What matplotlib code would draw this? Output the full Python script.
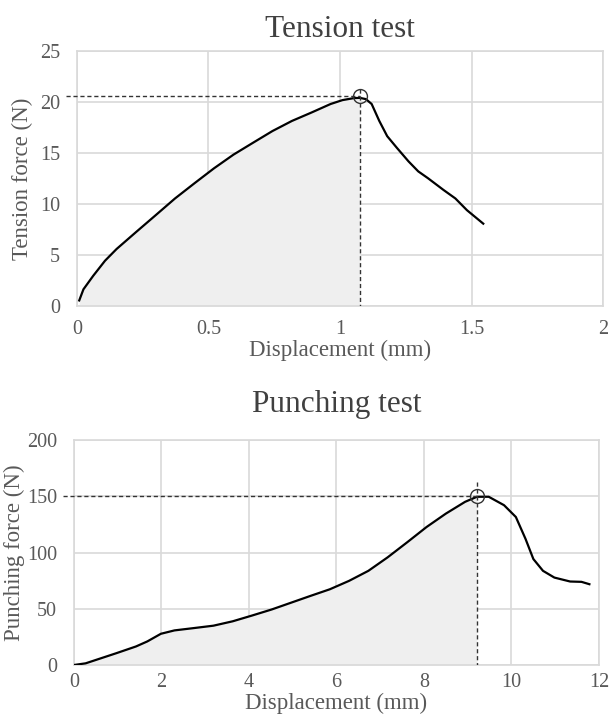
import numpy as np
import matplotlib.pyplot as plt

plt.rcParams['font.family'] = ['Liberation Serif', 'DejaVu Serif']

text_color = "#595959"
grid_color = "#d9d9d9"
fill_color = "#efefef"

# Tension test curve (displacement mm, force N)
tension_disp = [0.009, 0.025, 0.062, 0.107, 0.151, 0.225, 0.299, 0.373, 0.447, 0.521,
                0.595, 0.669, 0.743, 0.817, 0.891, 0.964, 1.009, 1.053, 1.075, 1.098,
                1.12, 1.149, 1.179, 1.216, 1.26, 1.297, 1.334, 1.393, 1.438, 1.482, 1.544]
tension_force = [0.56, 1.65, 2.97, 4.45, 5.6, 7.26, 8.9, 10.55, 12.04, 13.5,
                 14.84, 16.0, 17.15, 18.14, 18.96, 19.8, 20.18, 20.38, 20.4, 20.28,
                 19.8, 18.14, 16.65, 15.5, 14.18, 13.2, 12.53, 11.38, 10.55, 9.4, 8.08]
tension_peak = (1.075, 20.6)

# Punching test curve
punch_disp = [0.0, 0.27, 0.62, 0.97, 1.42, 1.68, 1.99, 2.30, 2.75, 3.19, 3.63, 4.07,
              4.52, 4.96, 5.40, 5.85, 6.29, 6.73, 7.17, 7.62, 8.06, 8.50, 8.94, 9.21,
              9.48, 9.83, 10.10, 10.32, 10.50, 10.72, 10.98, 11.34, 11.6, 11.78]
punch_force = [0.0, 1.5, 6.0, 10.5, 16.5, 21.0, 27.8, 30.8, 32.9, 35.0, 38.9, 44.0,
               49.4, 55.4, 61.4, 67.4, 74.9, 83.8, 95.8, 109.3, 122.8, 134.7, 145.2, 149.7,
               149.7, 142.2, 131.7, 112.3, 94.3, 83.8, 77.8, 74.3, 74.0, 71.9]
punch_peak = (9.21, 150.6)

fig = plt.figure(figsize=(6.10, 7.17), dpi=100)
ax1 = fig.add_axes([0.126, 0.573, 0.863, 0.356])
ax2 = fig.add_axes([0.121, 0.0725, 0.861, 0.3135])


def style_axes(ax, xlim, ylim, xticks, yticks, xticklabels, ylabel, title,
               xlab_y, ylab_x, title_pad, xpad):
    ax.set_xlim(*xlim)
    ax.set_ylim(*ylim)
    ax.set_xticks(xticks)
    ax.set_xticklabels(xticklabels)
    ax.set_yticks(yticks)
    ax.grid(True, color=grid_color, linewidth=1.2)
    ax.set_axisbelow(True)
    for s in ax.spines.values():
        s.set_color(grid_color)
        s.set_linewidth(1.2)
    ax.tick_params(length=0, labelsize=14.5, colors=text_color)
    ax.tick_params(axis='x', pad=xpad)
    ax.tick_params(axis='y', pad=12)
    ax.set_xlabel('Displacement (mm)', fontsize=16.5, color=text_color, va='top')
    ax.xaxis.set_label_coords(0.5, xlab_y)
    ax.set_ylabel(ylabel, fontsize=16.5, color=text_color, va='center')
    ax.yaxis.set_label_coords(ylab_x, 0.5)
    ax.set_title(title, fontsize=22.5, color="#404040", pad=title_pad)


def draw_curve(ax, xs, ys, peak):
    xs = np.array(xs)
    ys = np.array(ys)
    mask = xs <= peak[0]
    ax.fill_between(xs[mask], 0, ys[mask], color=fill_color, zorder=1, linewidth=0)
    ax.plot(xs, ys, color='black', linewidth=1.6, zorder=3)
    x0, x1 = ax.get_xlim()
    ax.plot([x0 - 0.02 * (x1 - x0), peak[0]], [peak[1], peak[1]],
            linestyle=(0, (3, 2)), color='#333333', linewidth=1, zorder=4, clip_on=False)
    ax.plot(peak[0], peak[1], marker='o', markersize=10, markerfacecolor='none',
            markeredgecolor='#333333', markeredgewidth=1, zorder=5)


style_axes(ax1, (0, 2), (0, 25), [0, 0.5, 1, 1.5, 2], [0, 5, 10, 15, 20, 25],
           ['0', '0.5', '1', '1.5', '2'], 'Tension force (N)', 'Tension test',
           -0.13, -0.104, 10, 10)
draw_curve(ax1, tension_disp, tension_force, tension_peak)
ax1.plot([tension_peak[0], tension_peak[0]], [tension_peak[1] + 0.7, 0],
         linestyle=(0, (3, 2)), color='#333333', linewidth=1, zorder=4)

style_axes(ax2, (0, 12), (0, 200), [0, 2, 4, 6, 8, 10, 12], [0, 50, 100, 150, 200],
           ['0', '2', '4', '6', '8', '10', '12'], 'Punching force (N)', 'Punching test',
           -0.124, -0.114, 20, 6)
draw_curve(ax2, punch_disp, punch_force, punch_peak)
ax2.plot([punch_peak[0], punch_peak[0]], [163, 0],
         linestyle=(0, (3, 2)), color='#333333', linewidth=1, zorder=4)

fig.savefig('out.png', dpi=100)
